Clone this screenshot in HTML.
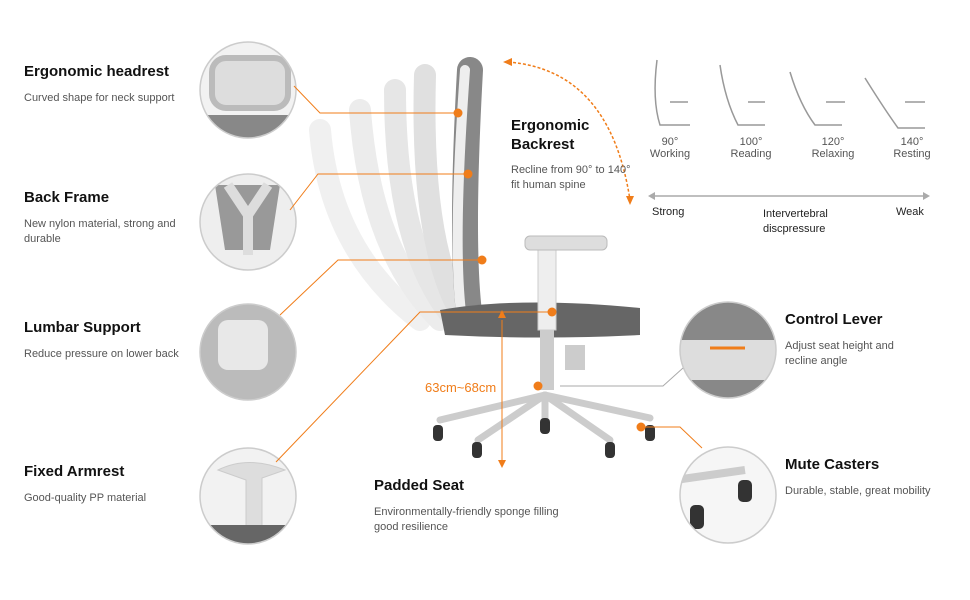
<!DOCTYPE html>
<html><head><meta charset="utf-8"><style>
body{margin:0;width:970px;height:600px;background:#fff;font-family:"Liberation Sans",sans-serif;position:relative;overflow:hidden}
.t{position:absolute;font-weight:bold;font-size:15px;color:#111}
.s{position:absolute;font-size:11px;color:#555;line-height:15px}
.c{position:absolute;font-size:11px;color:#555;text-align:center}
</style></head><body>
<svg width="970" height="600" style="position:absolute;left:0;top:0">
<defs>
<clipPath id="c1"><circle cx="248" cy="90" r="48"/></clipPath>
<clipPath id="c2"><circle cx="248" cy="222" r="48"/></clipPath>
<clipPath id="c3"><circle cx="248" cy="352" r="48"/></clipPath>
<clipPath id="c4"><circle cx="248" cy="496" r="48"/></clipPath>
<clipPath id="c5"><circle cx="728" cy="350" r="48"/></clipPath>
<clipPath id="c6"><circle cx="728" cy="495" r="48"/></clipPath>
</defs>
<g clip-path="url(#c1)"><rect x="200" y="42" width="96" height="96" fill="#f2f2f2"/><rect x="212" y="58" width="76" height="50" rx="14" fill="#ddd" stroke="#bbb" stroke-width="6"/><rect x="205" y="115" width="90" height="25" fill="#888"/></g>
<g clip-path="url(#c2)"><rect x="200" y="174" width="96" height="96" fill="#eee"/><path d="M215 185 L280 185 L270 250 L225 250 Z" fill="#999"/><path d="M228 185 L248 215 L268 185 M248 215 L248 255" stroke="#ddd" stroke-width="10" fill="none"/></g>
<g clip-path="url(#c3)"><rect x="200" y="304" width="96" height="96" fill="#bbb"/><rect x="218" y="320" width="50" height="50" rx="10" fill="#e8e8e8"/></g>
<g clip-path="url(#c4)"><rect x="200" y="448" width="96" height="96" fill="#f2f2f2"/><path d="M218 470 Q248 455 285 470 L262 478 L262 530 L246 530 L246 480 Z" fill="#ddd" stroke="#ccc"/><rect x="200" y="525" width="96" height="20" fill="#666"/></g>
<g clip-path="url(#c5)"><rect x="680" y="302" width="96" height="96" fill="#888"/><rect x="680" y="340" width="96" height="40" fill="#ddd"/><path d="M710 348 L745 348" stroke="#f07d1a" stroke-width="3"/></g>
<g clip-path="url(#c6)"><rect x="680" y="447" width="96" height="96" fill="#f6f6f6"/><path d="M675 480 L745 470" stroke="#ccc" stroke-width="8"/><rect x="738" y="480" width="14" height="22" rx="5" fill="#333"/><rect x="690" y="505" width="14" height="24" rx="5" fill="#333"/></g>
<g fill="none" stroke="#ccc" stroke-width="1.5">
<circle cx="248" cy="90" r="48"/><circle cx="248" cy="222" r="48"/><circle cx="248" cy="352" r="48"/><circle cx="248" cy="496" r="48"/><circle cx="728" cy="350" r="48"/><circle cx="728" cy="495" r="48"/></g>
<g fill="none" stroke-linecap="round">
<path d="M320 130 Q330 250 420 320" stroke="#f0f0f0" stroke-width="22"/>
<path d="M360 110 Q370 250 440 320" stroke="#ececec" stroke-width="22"/>
<path d="M395 90 Q395 250 455 320" stroke="#e6e6e6" stroke-width="22"/>
<path d="M425 75 Q420 250 465 320" stroke="#e0e0e0" stroke-width="22"/>
<path d="M470 70 Q460 250 470 320" stroke="#888" stroke-width="26"/>
<path d="M465 70 Q452 250 462 320" stroke="#eee" stroke-width="10"/>
</g>
<path d="M440 310 Q520 296 640 308 L640 335 Q540 340 445 335 Z" fill="#666"/>
<rect x="538" y="245" width="18" height="85" fill="#eee" stroke="#ccc"/>
<rect x="525" y="236" width="82" height="14" rx="5" fill="#ddd" stroke="#bbb"/>
<rect x="540" y="330" width="14" height="60" fill="#ccc"/>
<rect x="565" y="345" width="20" height="25" fill="#ccc"/>
<g stroke="#ccc" stroke-width="7" stroke-linecap="round">
<path d="M545 395 L440 420"/><path d="M545 395 L478 440"/><path d="M545 395 L545 420"/><path d="M545 395 L610 440"/><path d="M545 395 L650 418"/></g>
<g fill="#333"><rect x="433" y="425" width="10" height="16" rx="4"/><rect x="472" y="442" width="10" height="16" rx="4"/><rect x="540" y="418" width="10" height="16" rx="4"/><rect x="605" y="442" width="10" height="16" rx="4"/><rect x="645" y="425" width="10" height="16" rx="4"/></g>
<g stroke="#f07d1a" stroke-width="1" fill="none">
<path d="M294 86 L320 113 L458 113"/><path d="M290 210 L318 174 L468 174"/><path d="M280 315 L338 260 L482 260"/><path d="M276 462 L420 312 L552 312"/><path d="M641 427 L680 427 L702 448"/>
<path d="M502 320 L502 462"/></g>
<path d="M560 386 L663 386 L683 368" stroke="#aaa" fill="none"/>
<g fill="#f07d1a"><circle cx="458" cy="113" r="4.5"/><circle cx="468" cy="174" r="4.5"/><circle cx="482" cy="260" r="4.5"/><circle cx="552" cy="312" r="4.5"/><circle cx="641" cy="427" r="4.5"/><circle cx="538" cy="386" r="4.5"/>
<path d="M498 318 L502 310 L506 318Z"/><path d="M498 460 L502 468 L506 460Z"/></g>
<path d="M508 62 Q610 70 630 200" stroke="#f07d1a" stroke-width="1.5" fill="none" stroke-dasharray="3 2"/>
<path d="M503 62 L512 58 L512 66Z M630 205 L626 196 L634 196Z" fill="#f07d1a"/>
<path d="M652 196 L926 196" stroke="#aaa" stroke-width="1.5"/>
<path d="M648 196 L655 192 L655 200Z M930 196 L923 192 L923 200Z" fill="#aaa"/>
<g fill="none" stroke="#999" stroke-width="1.5">
<path d="M657 60 Q652 100 660 125 L690 125 M670 102 L688 102"/>
<path d="M720 65 Q725 100 738 125 L765 125 M748 102 L765 102"/>
<path d="M790 72 Q800 105 815 125 L842 125 M826 102 L845 102"/>
<path d="M865 78 Q885 110 898 128 L925 128 M905 102 L925 102"/></g>
</svg>
<div class="t" style="left:24px;top:63px">Ergonomic headrest</div><div class="s" style="left:24px;top:91px">Curved shape for neck support</div>
<div class="t" style="left:24px;top:189px">Back Frame</div><div class="s" style="left:24px;top:217px">New nylon material, strong and<br>durable</div>
<div class="t" style="left:24px;top:319px">Lumbar Support</div><div class="s" style="left:24px;top:347px">Reduce pressure on lower back</div>
<div class="t" style="left:24px;top:463px">Fixed Armrest</div><div class="s" style="left:24px;top:491px">Good-quality PP material</div>
<div class="t" style="left:511px;top:116px;line-height:19px">Ergonomic<br>Backrest</div><div class="s" style="left:511px;top:163px">Recline from 90° to 140°<br>fit human spine</div>
<div class="t" style="left:374px;top:477px">Padded Seat</div><div class="s" style="left:374px;top:505px">Environmentally-friendly sponge filling<br>good resilience</div>
<div class="t" style="left:785px;top:311px">Control Lever</div><div class="s" style="left:785px;top:339px">Adjust seat height and<br>recline angle</div>
<div class="t" style="left:785px;top:456px">Mute Casters</div><div class="s" style="left:785px;top:484px">Durable, stable, great mobility</div>
<div style="position:absolute;left:425px;top:380px;color:#f07d1a;font-size:13px">63cm~68cm</div>
<div class="c" style="left:640px;top:136px;width:60px">90°<br>Working</div>
<div class="c" style="left:721px;top:136px;width:60px">100°<br>Reading</div>
<div class="c" style="left:803px;top:136px;width:60px">120°<br>Relaxing</div>
<div class="c" style="left:882px;top:136px;width:60px">140°<br>Resting</div>
<div class="s" style="left:652px;top:205px;color:#222">Strong</div>
<div class="s" style="left:763px;top:207px;color:#222">Intervertebral<br>discpressure</div>
<div class="s" style="left:896px;top:205px;color:#222">Weak</div>
</body></html>
